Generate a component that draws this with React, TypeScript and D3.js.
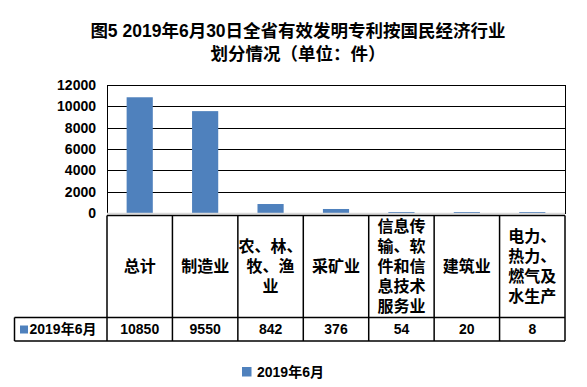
import * as d3 from 'd3';

const titleLines = ['图5  2019年6月30日全省有效发明专利按国民经济行业', '划分情况（单位：件）'];
const categories = ['总计', '制造业', '农林牧渔业', '采矿业', '信息传输软件', '建筑业', '电力热力燃气'];
const categoryLabels = [
  ['总计'],
  ['制造业'],
  ['农、林、', '牧、渔', '业'],
  ['采矿业'],
  ['信息传', '输、软', '件和信', '息技术', '服务业'],
  ['建筑业'],
  ['电力、', '热力、', '燃气及', '水生产'],
];
const seriesName = '2019年6月';
const values = [10850, 9550, 842, 376, 54, 20, 8];
const yTicks = [0, 2000, 4000, 6000, 8000, 10000, 12000];

const W = 587;
const H = 387;
const BLUE = '#4F81BD';
const FONT = '"Liberation Sans", Arial, "Noto Sans CJK SC", sans-serif';

export default function App() {
  const left = 107;
  const right = 565;
  const top = 85;
  const zero = 213;
  const tableTop = 215.5;
  const rowSplit = 317.5;
  const tableBottom = 341;
  const legendLeft = 14.5;

  const x = d3.scaleBand<string>().domain(categories).range([left, right]);
  const y = d3.scaleLinear().domain([0, 12000]).range([zero, top]);
  const bw = x.bandwidth();

  const headerMid = (tableTop + rowSplit) / 2;
  const valueMid = (rowSplit + tableBottom) / 2;

  return (
    <svg
      width={W}
      height={H}
      style={{ position: 'absolute', left: 0, top: 0, background: '#fff' }}
      fontFamily={FONT}
      fontWeight="bold"
    >
      <rect width={W} height={H} fill="#fff" />
      {titleLines.map((t, i) => (
        <text key={i} x={298} y={37 + i * 23} textAnchor="middle" fontSize={17.5}>
          {t}
        </text>
      ))}

      {/* grid */}
      {yTicks.map((t) =>
        t === 0 ? null : (
          <line key={t} x1={left} x2={right} y1={Math.round(y(t)) + 0.5} y2={Math.round(y(t)) + 0.5} stroke="#000" />
        ),
      )}
      <line x1={left + 0.5} x2={left + 0.5} y1={y(12000)} y2={zero} stroke="#000" />
      <line x1={right + 0.5} x2={right + 0.5} y1={y(12000)} y2={zero + 1} stroke="#000" />

      {yTicks.map((t) => (
        <text key={t} x={96} y={y(t) + 5} textAnchor="end" fontSize={14}>
          {t}
        </text>
      ))}

      {/* bars */}
      {categories.map((c, i) => {
        const h = Math.max(zero - y(values[i]), 1);
        return <rect key={c} x={(x(c) ?? 0) + bw * 0.3} width={bw * 0.4} y={zero - h} height={h} fill={BLUE} />;
      })}
      <line x1={left} x2={right} y1={zero + 0.5} y2={zero + 0.5} stroke="#D9D9D9" strokeWidth={1.5} />

      {/* data table */}
      <g stroke="#000" strokeWidth={1.5} fill="none">
        <line x1={left} x2={right} y1={tableTop} y2={tableTop} />
        <line x1={legendLeft} x2={right} y1={rowSplit} y2={rowSplit} />
        <line x1={legendLeft} x2={right} y1={tableBottom} y2={tableBottom} />
        <line x1={legendLeft} x2={legendLeft} y1={rowSplit} y2={tableBottom} />
        {categories.map((c) => (
          <line key={c} x1={x(c)} x2={x(c)} y1={tableTop} y2={tableBottom} />
        ))}
        <line x1={right} x2={right} y1={tableTop} y2={tableBottom} />
      </g>

      {categories.map((c, i) => {
        const lines = categoryLabels[i];
        const cx = (x(c) ?? 0) + bw / 2;
        const y0 = headerMid - ((lines.length - 1) * 20) / 2;
        return (
          <g key={c}>
            {lines.map((l, j) => (
              <text key={j} x={cx} y={y0 + j * 20 + 5.5} textAnchor="middle" fontSize={16}>
                {l}
              </text>
            ))}
            <text x={cx} y={valueMid + 5} textAnchor="middle" fontSize={14}>
              {values[i]}
            </text>
          </g>
        );
      })}

      <rect x={20} y={325.5} width={8} height={8} fill={BLUE} />
      <text x={29.5} y={valueMid + 5} fontSize={14}>
        {seriesName}
      </text>

      {/* legend */}
      <rect x={242} y={367} width={9.5} height={9.5} fill={BLUE} />
      <text x={257} y={377} fontSize={14}>
        {seriesName}
      </text>
    </svg>
  );
}
